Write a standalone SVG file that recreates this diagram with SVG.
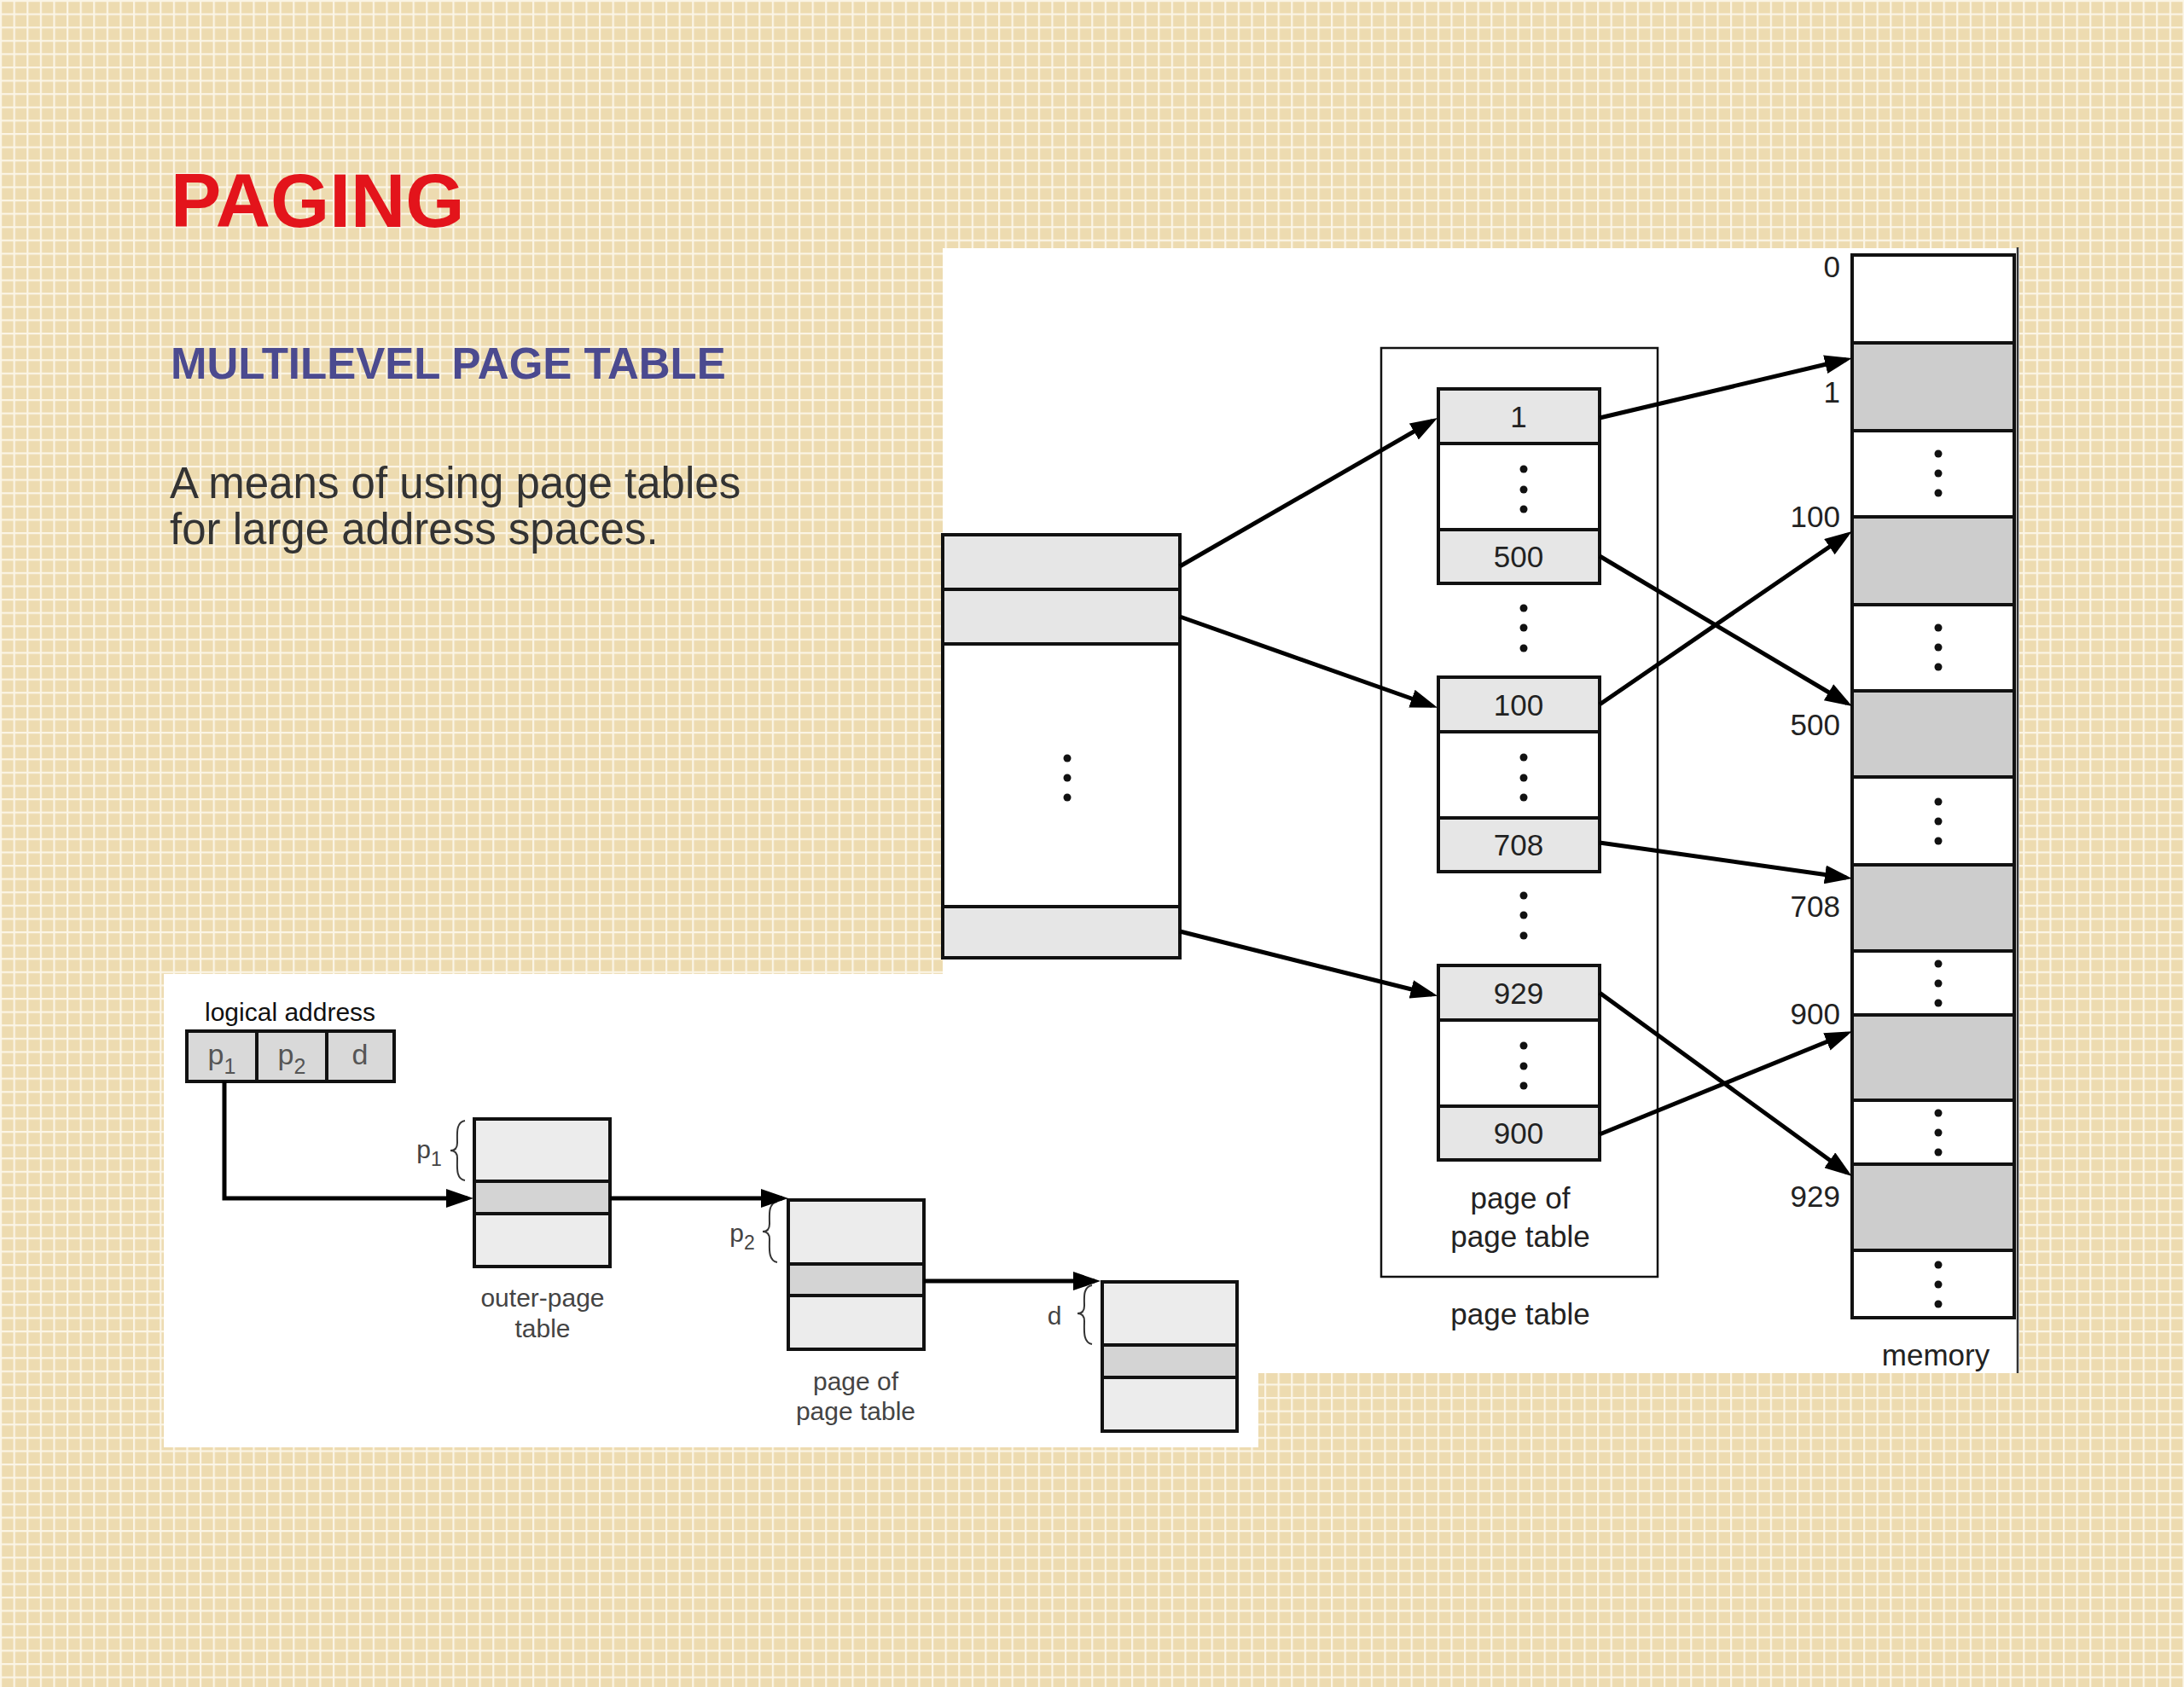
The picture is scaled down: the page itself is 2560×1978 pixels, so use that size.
<svg xmlns="http://www.w3.org/2000/svg" width="2560" height="1978" viewBox="0 0 2560 1978">
<defs>
<pattern id="bg" x="0" y="0" width="15.6" height="15.6" patternUnits="userSpaceOnUse">
<rect width="15.6" height="15.6" fill="#eddbb0"/>
<rect x="0" y="0" width="2.2" height="15.6" fill="#fbf5e6"/>
<rect x="0" y="0" width="15.6" height="2.2" fill="#fbf5e6"/>
</pattern>
<marker id="ah" markerUnits="userSpaceOnUse" markerWidth="32" markerHeight="22" viewBox="0 0 32 22" refX="25" refY="11" orient="auto">
<path d="M0,0 L32,11 L0,22 Z" fill="#000"/>
</marker>
<style>
.cell{stroke:#111;stroke-width:4}
.lt{fill:#e6e6e6}
.wh{fill:#fff}
.mg{fill:#cdcdcd}
.sl{fill:#ececec}
.sm{fill:#d4d4d4}
.thin{fill:none;stroke:#111;stroke-width:2.5}
.lbl{font-family:"Liberation Sans",Arial,sans-serif;font-size:35px;fill:#222}
.slbl{font-family:"Liberation Sans",Arial,sans-serif;font-size:30px;fill:#444}
.plbl{font-family:"Liberation Sans",Arial,sans-serif;font-size:34px;fill:#555}
.dot{fill:#111}
.conn{fill:none;stroke:#000;stroke-width:5;marker-end:url(#ah)}
.brace{fill:none;stroke:#333;stroke-width:2}
</style>
</defs>

<rect x="0" y="0" width="2560" height="1978" fill="url(#bg)"/>

<g id="panels">
<path d="M1105,291 H2367 V1610 H1475 V1697 H192 V1142 H1105 Z" fill="#fff"/>
<line x1="2365" y1="290" x2="2365" y2="1610" stroke="#333" stroke-width="2.5"/>
</g>

<g id="title">
<text x="200" y="266" font-family="'Liberation Sans',Arial,sans-serif" font-weight="bold" font-size="89" fill="#e3141b">PAGING</text>
<text x="200" y="444" font-family="'Liberation Sans',Arial,sans-serif" font-weight="bold" font-size="51" fill="#4b4a8f">MULTILEVEL PAGE TABLE</text>
<text font-family="'Liberation Sans',Arial,sans-serif" font-size="51" fill="#333">
<tspan x="199" y="584">A means of using page tables</tspan>
<tspan x="199" y="638">for large address spaces.</tspan>
</text>
</g>

<g id="outer-page-table">
<rect class="cell lt" x="1105" y="627" width="278" height="64"/>
<rect class="cell lt" x="1105" y="691" width="278" height="64"/>
<rect class="cell wh" x="1105" y="755" width="278" height="308"/>
<rect class="cell lt" x="1105" y="1063" width="278" height="60"/>
<circle class="dot" cx="1251" cy="889" r="4.5"/>
<circle class="dot" cx="1251" cy="912" r="4.5"/>
<circle class="dot" cx="1251" cy="935" r="4.5"/>
</g>

<g id="page-table">
<rect class="thin" x="1619" y="408" width="324" height="1089"/>
<text class="lbl" x="1782" y="1417" text-anchor="middle">page of</text>
<text class="lbl" x="1782" y="1462" text-anchor="middle">page table</text>
<text class="lbl" x="1782" y="1553" text-anchor="middle">page table</text>
<circle class="dot" cx="1786" cy="713" r="4.5"/>
<circle class="dot" cx="1786" cy="736" r="4.5"/>
<circle class="dot" cx="1786" cy="760" r="4.5"/>
<circle class="dot" cx="1786" cy="1050" r="4.5"/>
<circle class="dot" cx="1786" cy="1073" r="4.5"/>
<circle class="dot" cx="1786" cy="1097" r="4.5"/>
</g>

<g id="page-of-page-table-1">
<rect class="cell lt" x="1686" y="456" width="189" height="64"/>
<rect class="cell wh" x="1686" y="520" width="189" height="101"/>
<rect class="cell lt" x="1686" y="621" width="189" height="63"/>
<text class="lbl" x="1780" y="501" text-anchor="middle">1</text>
<text class="lbl" x="1780" y="665" text-anchor="middle">500</text>
<circle class="dot" cx="1786" cy="550" r="4.5"/>
<circle class="dot" cx="1786" cy="574" r="4.5"/>
<circle class="dot" cx="1786" cy="597" r="4.5"/>
</g>

<g id="page-of-page-table-2">
<rect class="cell lt" x="1686" y="794" width="189" height="64"/>
<rect class="cell wh" x="1686" y="858" width="189" height="101"/>
<rect class="cell lt" x="1686" y="959" width="189" height="63"/>
<text class="lbl" x="1780" y="839" text-anchor="middle">100</text>
<text class="lbl" x="1780" y="1003" text-anchor="middle">708</text>
<circle class="dot" cx="1786" cy="888" r="4.5"/>
<circle class="dot" cx="1786" cy="912" r="4.5"/>
<circle class="dot" cx="1786" cy="935" r="4.5"/>
</g>

<g id="page-of-page-table-3">
<rect class="cell lt" x="1686" y="1132" width="189" height="64"/>
<rect class="cell wh" x="1686" y="1196" width="189" height="101"/>
<rect class="cell lt" x="1686" y="1297" width="189" height="63"/>
<text class="lbl" x="1780" y="1177" text-anchor="middle">929</text>
<text class="lbl" x="1780" y="1341" text-anchor="middle">900</text>
<circle class="dot" cx="1786" cy="1226" r="4.5"/>
<circle class="dot" cx="1786" cy="1250" r="4.5"/>
<circle class="dot" cx="1786" cy="1273" r="4.5"/>
</g>

<g id="memory">
<rect class="cell wh" x="2171" y="299" width="190" height="103"/>
<rect class="cell mg" x="2171" y="402" width="190" height="103"/>
<rect class="cell wh" x="2171" y="505" width="190" height="101"/>
<rect class="cell mg" x="2171" y="606" width="190" height="103"/>
<rect class="cell wh" x="2171" y="709" width="190" height="101"/>
<rect class="cell mg" x="2171" y="810" width="190" height="101"/>
<rect class="cell wh" x="2171" y="911" width="190" height="103"/>
<rect class="cell mg" x="2171" y="1014" width="190" height="101"/>
<rect class="cell wh" x="2171" y="1115" width="190" height="75"/>
<rect class="cell mg" x="2171" y="1190" width="190" height="100"/>
<rect class="cell wh" x="2171" y="1290" width="190" height="75"/>
<rect class="cell mg" x="2171" y="1365" width="190" height="101"/>
<rect class="cell wh" x="2171" y="1466" width="190" height="79"/>
<g class="dot">
<circle cx="2272" cy="532" r="4.5"/><circle cx="2272" cy="555" r="4.5"/><circle cx="2272" cy="578" r="4.5"/>
<circle cx="2272" cy="736" r="4.5"/><circle cx="2272" cy="759" r="4.5"/><circle cx="2272" cy="782" r="4.5"/>
<circle cx="2272" cy="940" r="4.5"/><circle cx="2272" cy="963" r="4.5"/><circle cx="2272" cy="986" r="4.5"/>
<circle cx="2272" cy="1130" r="4.5"/><circle cx="2272" cy="1153" r="4.5"/><circle cx="2272" cy="1176" r="4.5"/>
<circle cx="2272" cy="1305" r="4.5"/><circle cx="2272" cy="1328" r="4.5"/><circle cx="2272" cy="1351" r="4.5"/>
<circle cx="2272" cy="1483" r="4.5"/><circle cx="2272" cy="1506" r="4.5"/><circle cx="2272" cy="1529" r="4.5"/>
</g>
<text class="lbl" x="2157" y="325" text-anchor="end">0</text>
<text class="lbl" x="2157" y="472" text-anchor="end">1</text>
<text class="lbl" x="2157" y="618" text-anchor="end">100</text>
<text class="lbl" x="2157" y="862" text-anchor="end">500</text>
<text class="lbl" x="2157" y="1075" text-anchor="end">708</text>
<text class="lbl" x="2157" y="1201" text-anchor="end">900</text>
<text class="lbl" x="2157" y="1415" text-anchor="end">929</text>
<text class="lbl" x="2269" y="1601" text-anchor="middle">memory</text>
</g>

<g id="logical-address">
<text x="240" y="1197" font-family="'Liberation Sans',Arial,sans-serif" font-size="30" fill="#111">logical address</text>
<rect class="cell" fill="#d9d9d9" x="219" y="1209" width="82" height="59"/>
<rect class="cell" fill="#d9d9d9" x="301" y="1209" width="82" height="59"/>
<rect class="cell" fill="#d9d9d9" x="383" y="1209" width="79" height="59"/>
<text class="plbl" x="260" y="1248" text-anchor="middle">p<tspan font-size="25" dy="11">1</tspan></text>
<text class="plbl" x="342" y="1248" text-anchor="middle">p<tspan font-size="25" dy="11">2</tspan></text>
<text class="plbl" x="422" y="1248" text-anchor="middle">d</text>
</g>

<g id="small-outer-page-table">
<rect class="cell sl" x="556" y="1312" width="159" height="73"/>
<rect class="cell sm" x="556" y="1385" width="159" height="38"/>
<rect class="cell sl" x="556" y="1423" width="159" height="62"/>
<path class="brace" d="M545,1314 C534,1316 536,1330 536,1340 C536,1346 533,1349 528,1349 C533,1349 536,1352 536,1358 C536,1368 534,1382 545,1384"/>
<text class="slbl" x="503" y="1358" text-anchor="middle">p<tspan font-size="23" dy="9">1</tspan></text>
<text class="slbl" x="636" y="1532" text-anchor="middle">outer-page</text>
<text class="slbl" x="636" y="1568" text-anchor="middle">table</text>
</g>

<g id="small-page-of-page-table">
<rect class="cell sl" x="924" y="1407" width="159" height="75"/>
<rect class="cell sm" x="924" y="1482" width="159" height="37"/>
<rect class="cell sl" x="924" y="1519" width="159" height="63"/>
<path class="brace" d="M911,1409 C900,1411 902,1425 902,1435 C902,1441 899,1444 894,1444 C899,1444 902,1447 902,1453 C902,1463 900,1478 911,1480"/>
<text class="slbl" x="870" y="1456" text-anchor="middle">p<tspan font-size="23" dy="9">2</tspan></text>
<text class="slbl" x="1003" y="1630" text-anchor="middle">page of</text>
<text class="slbl" x="1003" y="1665" text-anchor="middle">page table</text>
</g>

<g id="small-page">
<rect class="cell sl" x="1292" y="1503" width="158" height="74"/>
<rect class="cell sm" x="1292" y="1577" width="158" height="38"/>
<rect class="cell sl" x="1292" y="1615" width="158" height="63"/>
<path class="brace" d="M1280,1507 C1269,1509 1271,1522 1271,1531 C1271,1537 1268,1540 1263,1540 C1268,1540 1271,1543 1271,1549 C1271,1559 1269,1574 1280,1576"/>
<text class="slbl" x="1236" y="1553" text-anchor="middle">d</text>
</g>

<g id="connectors">
<line class="conn" x1="1383" y1="664" x2="1679" y2="493.5"/>
<line class="conn" x1="1383" y1="723" x2="1678.5" y2="827.5"/>
<line class="conn" x1="1383" y1="1092" x2="1678.5" y2="1166"/>
<line class="conn" x1="1875" y1="490" x2="2164" y2="421.5"/>
<line class="conn" x1="1875" y1="652" x2="2165" y2="824.5"/>
<line class="conn" x1="1875" y1="826" x2="2165" y2="627"/>
<line class="conn" x1="1875" y1="988" x2="2164" y2="1029"/>
<line class="conn" x1="1875" y1="1164" x2="2165" y2="1375"/>
<line class="conn" x1="1875" y1="1330" x2="2164.5" y2="1212"/>
<path class="conn" d="M263,1268 V1405 H548"/>
<path class="conn" d="M715,1405 H917"/>
<path class="conn" d="M1083,1502 H1283"/>
</g>
</svg>
